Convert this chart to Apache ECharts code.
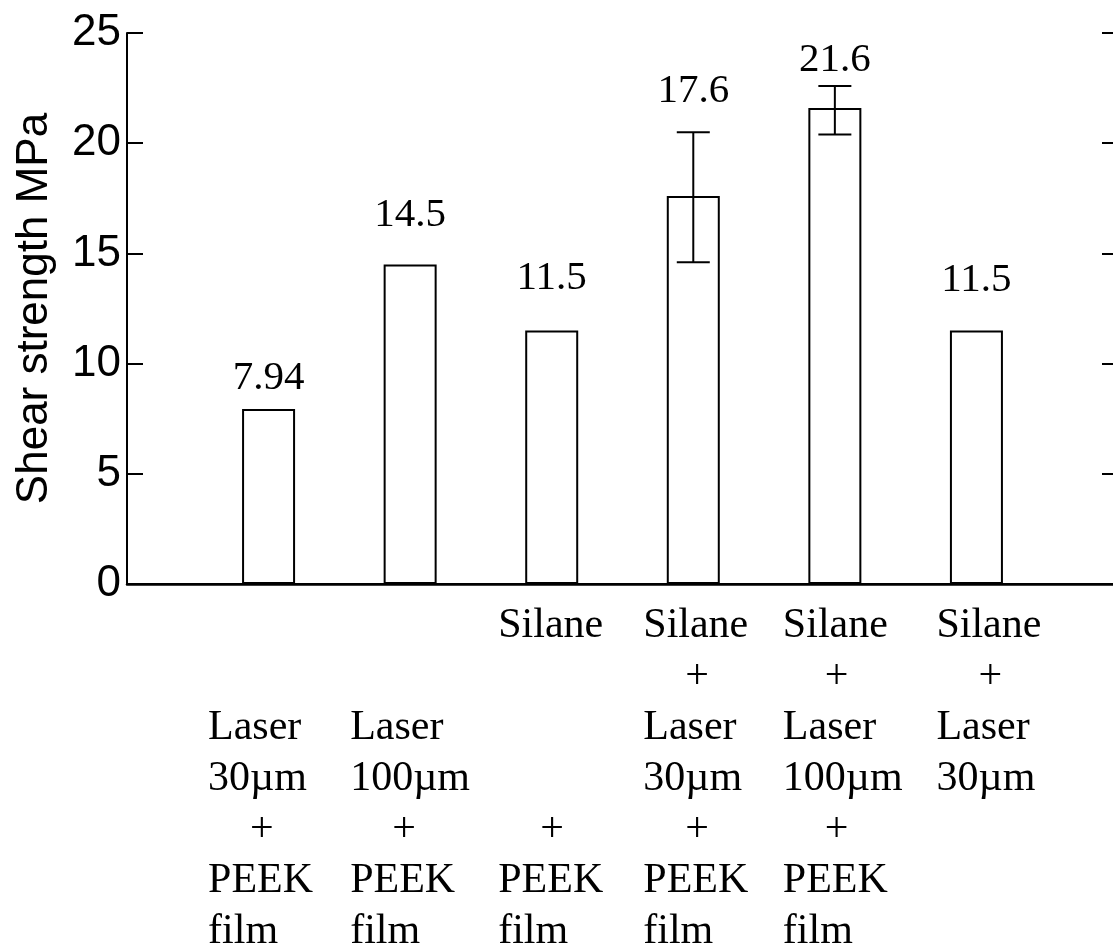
<!DOCTYPE html>
<html>
<head>
<meta charset="utf-8">
<script src="https://cdn.jsdelivr.net/npm/echarts@6/dist/echarts.min.js"></script>
<style>html,body{margin:0;padding:0;background:#fff;}#chart{width:1113px;height:950px;}</style>
</head>
<body>
<div id="chart"></div>
<script>
// ---- data ----
const categoryLines = [
  ['', '', 'Laser', '30µm', '+', 'PEEK', 'film'],
  ['', '', 'Laser', '100µm', '+', 'PEEK', 'film'],
  ['Silane', '', '', '', '+', 'PEEK', 'film'],
  ['Silane', '+', 'Laser', '30µm', '+', 'PEEK', 'film'],
  ['Silane', '+', 'Laser', '100µm', '+', 'PEEK', 'film'],
  ['Silane', '+', 'Laser', '30µm', '', '', '']
];
const shearStrength = [7.94, 14.5, 11.5, 17.6, 21.6, 11.5];
const valueLabels = ['7.94', '14.5', '11.5', '17.6', '21.6', '11.5'];
const errLow = [null, null, null, 14.6, 20.4, null];
const errHigh = [null, null, null, 20.5, 22.6, null];
const yTicks = [0, 5, 10, 15, 20, 25];
const yAxisName = 'Shear strength MPa';

// ---- style ----
const serif = 'Liberation Serif, Times New Roman, serif';
const sans = 'Liberation Sans, Arial, sans-serif';
const labelDistances = [10, 29, 32, 84, 27, 30];
const labelBoxWidths = [121, 120, 107, 100, 104, 80];

const xCats = ['pad0'].concat(categoryLines.map((_, i) => 'c' + i)).concat(['pad1']);
const barData = [null].concat(shearStrength.map((v, i) => ({
  value: v,
  label: { distance: labelDistances[i], formatter: () => valueLabels[i] }
}))).concat([null]);
const errData = [];
errLow.forEach((lo, i) => { if (lo != null) errData.push([i + 1, lo, errHigh[i]]); });

const rich = {};
labelBoxWidths.forEach((w, i) => {
  rich['w' + i] = { width: w, align: 'left', lineHeight: 51, fontFamily: serif, fontSize: 42, color: '#000' };
});

const chart = echarts.init(document.getElementById('chart'), null, { renderer: 'canvas' });
chart.setOption({
  backgroundColor: '#fff',
  animation: false,
  grid: { left: 127, right: -5, top: 33, bottom: 366, containLabel: false, outerBoundsMode: 'none' },
  xAxis: [{
    type: 'category',
    data: xCats,
    boundaryGap: false,
    axisLine: { show: true, lineStyle: { color: '#000', width: 2.5 } },
    axisTick: { show: false },
    splitLine: { show: false },
    axisLabel: {
      interval: 0,
      margin: 16,
      verticalAlign: 'top',
      align: 'center',
      formatter: function (val, idx) {
        const k = idx - 1;
        if (k < 0 || k >= categoryLines.length) return '';
        return categoryLines[k].map(s => {
          const t = s === '+' ? '\u00a0\u00a0\u00a0\u00a0+' : (s === '' ? '\u00a0' : s);
          return '{w' + k + '|' + t + '}';
        }).join('\n');
      },
      rich: rich
    }
  }, {
    type: 'category',
    data: xCats,
    boundaryGap: false,
    position: 'top',
    axisLine: { show: true, lineStyle: { color: '#000', width: 2 } },
    axisTick: { show: false },
    axisLabel: { show: false },
    splitLine: { show: false }
  }],
  yAxis: [{
    type: 'value',
    min: yTicks[0], max: yTicks[yTicks.length - 1], interval: 5,
    name: yAxisName,
    nameLocation: 'middle',
    nameRotate: 90,
    nameGap: 70,
    nameTextStyle: { fontFamily: sans, fontSize: 44, color: '#000' },
    axisLine: { show: true, lineStyle: { color: '#000', width: 2 } },
    axisTick: { show: true, inside: true, length: 16, lineStyle: { color: '#000', width: 2 } },
    axisLabel: { margin: 6, fontFamily: sans, fontSize: 44, color: '#000' },
    splitLine: { show: false }
  }, {
    type: 'value',
    position: 'right',
    min: yTicks[0], max: yTicks[yTicks.length - 1], interval: 5,
    axisLine: { show: true, lineStyle: { color: '#000', width: 2 } },
    axisTick: { show: true, inside: true, length: 16, lineStyle: { color: '#000', width: 2 } },
    axisLabel: { show: false },
    splitLine: { show: false }
  }],
  series: [{
    type: 'bar',
    data: barData,
    barWidth: 53,
    itemStyle: { color: '#fff', borderColor: '#000', borderWidth: 2 },
    label: { show: true, position: 'top', fontFamily: serif, fontSize: 41, color: '#000' },
    z: 2
  }, {
    type: 'custom',
    data: errData,
    z: 3,
    renderItem: function (params, api) {
      const x = api.value(0);
      const lo = api.coord([x, api.value(1)]);
      const hi = api.coord([x, api.value(2)]);
      const half = 16.5;
      const st = { stroke: '#000', lineWidth: 2 };
      return {
        type: 'group',
        children: [
          { type: 'line', shape: { x1: lo[0], y1: lo[1], x2: hi[0], y2: hi[1] }, style: st },
          { type: 'line', shape: { x1: hi[0] - half, y1: hi[1], x2: hi[0] + half, y2: hi[1] }, style: st },
          { type: 'line', shape: { x1: lo[0] - half, y1: lo[1], x2: lo[0] + half, y2: lo[1] }, style: st }
        ]
      };
    }
  }]
});
</script>
</body>
</html>
